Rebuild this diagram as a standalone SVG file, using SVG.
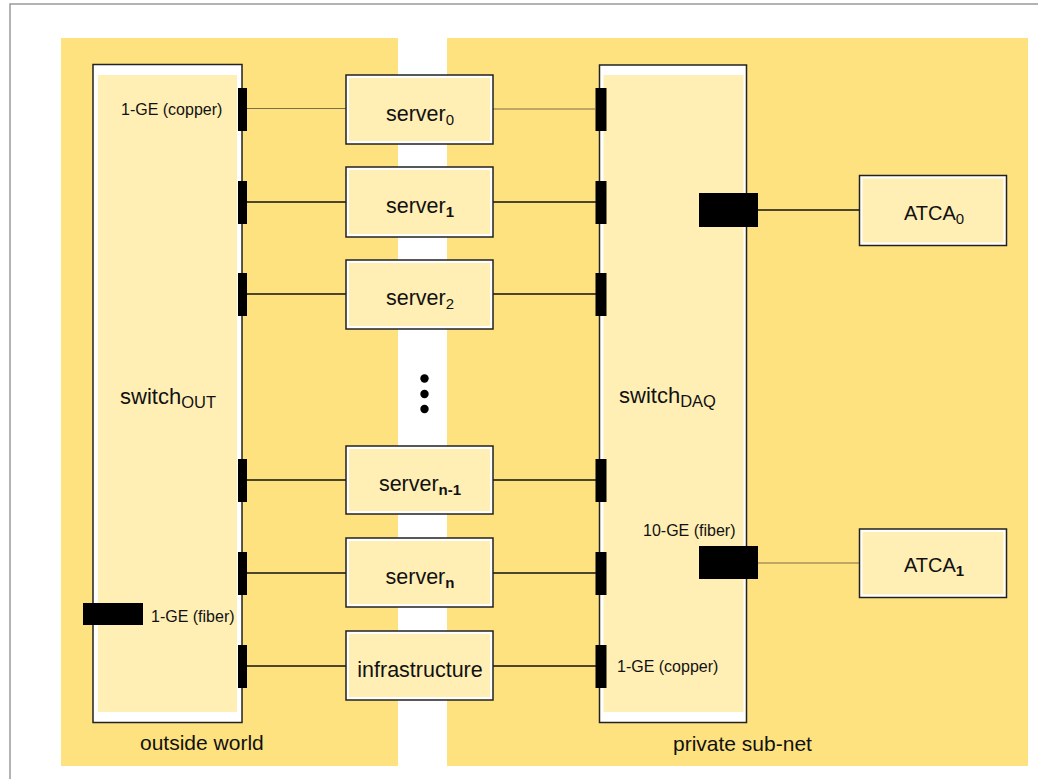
<svg xmlns="http://www.w3.org/2000/svg" width="1038" height="779" viewBox="0 0 1038 779">
<style>
text{font-family:"Liberation Sans",Arial,Helvetica,sans-serif;fill:#111}
.panel{fill:#FEE27F}
.boxo{fill:#fff;stroke:#222;stroke-width:1.5}
.boxi{fill:#FFEFB5}
.port{fill:#000}
.lbl{font-size:21.5px}
.sub{font-size:15px}
.small{font-size:16px}
.ln{stroke:#111;stroke-width:1.3;fill:none}
.lnl{stroke:#7d6d48;stroke-width:1.2;fill:none}
</style>
<rect width="1038" height="779" fill="#fff"/>
<rect x="10" y="4" width="1100" height="900" fill="none" stroke="#9a9a9a" stroke-width="1.5"/>
<rect class="panel" x="61" y="38" width="337" height="728"/>
<rect class="panel" x="447" y="38" width="581" height="728"/>
<text x="140" y="750" style="font-size:21px">outside world</text>
<text x="673" y="751" style="font-size:21px">private sub-net</text>

<g id="switchOUT">
<rect class="boxo" x="93" y="64.5" width="149" height="658"/>
<rect class="boxi" x="98" y="75" width="139" height="637"/>
<text x="120" y="404" style="font-size:22px">switch<tspan dy="4" style="font-size:16.5px">OUT</tspan></text>
<text x="121" y="115" class="small">1-GE (copper)</text>
<text x="151" y="622" class="small">1-GE (fiber)</text>
<rect class="port" x="83" y="603" width="60" height="22"/>
</g>

<g id="switchDAQ">
<rect class="boxo" x="599.5" y="65" width="147" height="657.5"/>
<rect class="boxi" x="603.5" y="75" width="140" height="637"/>
<text x="619" y="403" style="font-size:22px">switch<tspan dy="4" style="font-size:16.5px">DAQ</tspan></text>
<text x="643" y="536" class="small">10-GE (fiber)</text>
<text x="617" y="672" class="small">1-GE (copper)</text>
<rect class="port" x="699" y="193" width="59" height="34"/>
<rect class="port" x="699" y="546" width="59" height="33"/>
</g>

<g id="ports">
<rect class="port" x="238" y="88" width="9" height="43"/>
<rect class="port" x="238" y="181" width="9" height="43"/>
<rect class="port" x="238" y="273" width="9" height="43"/>
<rect class="port" x="238" y="459" width="9" height="43"/>
<rect class="port" x="238" y="552" width="9" height="43"/>
<rect class="port" x="238" y="645" width="9" height="43"/>
<rect class="port" x="595.5" y="88" width="11" height="43"/>
<rect class="port" x="595.5" y="181" width="11" height="43"/>
<rect class="port" x="595.5" y="273" width="11" height="43"/>
<rect class="port" x="595.5" y="459" width="11" height="43"/>
<rect class="port" x="595.5" y="552" width="11" height="43"/>
<rect class="port" x="595.5" y="645" width="11" height="43"/>
</g>

<g id="connectors">
<line class="lnl" x1="247" y1="108.5" x2="346" y2="108.5"/>
<line class="lnl" x1="493" y1="109" x2="596" y2="109"/>
<line class="ln" x1="247" y1="202" x2="346" y2="202"/>
<line class="ln" x1="493" y1="202" x2="596" y2="202"/>
<line class="ln" x1="247" y1="294" x2="346" y2="294"/>
<line class="ln" x1="493" y1="294" x2="596" y2="294"/>
<line class="ln" x1="247" y1="480" x2="346" y2="480"/>
<line class="ln" x1="493" y1="480" x2="596" y2="480"/>
<line class="ln" x1="247" y1="573" x2="346" y2="573"/>
<line class="ln" x1="493" y1="573" x2="596" y2="573"/>
<line class="ln" x1="247" y1="666" x2="346" y2="666"/>
<line class="ln" x1="493" y1="666" x2="596" y2="666"/>
<line class="ln" x1="758" y1="210" x2="860" y2="210"/>
<line class="lnl" x1="758" y1="563" x2="860" y2="563"/>
</g>

<g id="server0">
<rect class="boxo" x="346" y="75" width="147" height="69"/>
<rect class="boxi" x="349" y="78" width="141" height="63"/>
<text x="420" y="121" class="lbl" text-anchor="middle">server<tspan dy="4" class="sub">0</tspan></text>
</g>
<g id="server1">
<rect class="boxo" x="346" y="167" width="147" height="70"/>
<rect class="boxi" x="349" y="170" width="141" height="64"/>
<text x="420" y="213" class="lbl" text-anchor="middle">server<tspan dy="4" class="sub" font-weight="bold">1</tspan></text>
</g>
<g id="server2">
<rect class="boxo" x="346" y="260" width="147" height="69"/>
<rect class="boxi" x="349" y="263" width="141" height="63"/>
<text x="420" y="305" class="lbl" text-anchor="middle">server<tspan dy="4" class="sub">2</tspan></text>
</g>
<g id="dots">
<circle cx="424.5" cy="378.5" r="4.2" fill="#000"/>
<circle cx="424.5" cy="394" r="4.2" fill="#000"/>
<circle cx="424.5" cy="409" r="4.2" fill="#000"/>
</g>
<g id="server_n-1">
<rect class="boxo" x="346" y="446" width="147" height="68"/>
<rect class="boxi" x="349" y="449" width="141" height="62"/>
<text x="420" y="491" class="lbl" text-anchor="middle">server<tspan dy="4" class="sub" font-weight="bold">n-1</tspan></text>
</g>
<g id="server_n">
<rect class="boxo" x="346" y="538" width="147" height="69"/>
<rect class="boxi" x="349" y="541" width="141" height="63"/>
<text x="420" y="584" class="lbl" text-anchor="middle">server<tspan dy="4" class="sub" font-weight="bold">n</tspan></text>
</g>
<g id="infrastructure">
<rect class="boxo" x="346" y="631" width="147" height="69"/>
<rect class="boxi" x="349" y="634" width="141" height="63"/>
<text x="420" y="677" class="lbl" text-anchor="middle">infrastructure</text>
</g>

<g id="ATCA0">
<rect class="boxo" x="859.5" y="175.5" width="147" height="70"/>
<rect class="boxi" x="862.5" y="178.5" width="141" height="64"/>
<text x="934" y="220" text-anchor="middle" style="font-size:20px">ATCA<tspan dy="4" class="sub">0</tspan></text>
</g>
<g id="ATCA1">
<rect class="boxo" x="859.5" y="529" width="147" height="68.5"/>
<rect class="boxi" x="862.5" y="532" width="141" height="62.5"/>
<text x="934" y="572" text-anchor="middle" style="font-size:20px">ATCA<tspan dy="4" class="sub" font-weight="bold">1</tspan></text>
</g>
</svg>
